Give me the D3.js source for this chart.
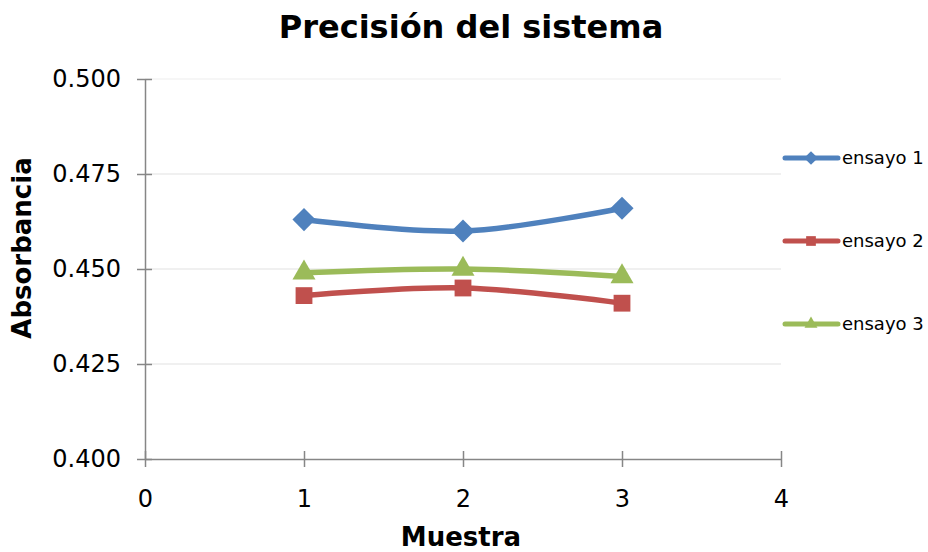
<!DOCTYPE html>
<html>
<head>
<meta charset="utf-8">
<script src="https://cdn.jsdelivr.net/npm/d3@7"></script>
<style>
  html, body { margin: 0; padding: 0; background: #fff; }
  svg { display: block; font-family: "DejaVu Sans", Verdana, sans-serif; }
</style>
</head>
<body>
<svg id="chart" width="928" height="552"></svg>
<script>
// Data: absorbance readings for three runs over samples 1..3
const muestras = [1, 2, 3];
const ensayo1 = [0.463, 0.460, 0.466];
const ensayo2 = [0.443, 0.445, 0.441];
const ensayo3 = [0.449, 0.450, 0.448];
const seriesNames = ["ensayo 1", "ensayo 2", "ensayo 3"];
const xTicks = [0, 1, 2, 3, 4];
const yTicks = [0.400, 0.425, 0.450, 0.475, 0.500];

const series = [
  { name: seriesNames[0], values: ensayo1, color: "#4F81BD", symbol: d3.symbolDiamond2, size: 340 },
  { name: seriesNames[1], values: ensayo2, color: "#C0504D", symbol: d3.symbolSquare2, size: 360 },
  { name: seriesNames[2], values: ensayo3, color: "#9BBB59", symbol: d3.symbolTriangle2, size: 380 }
];

const svg = d3.select("#chart");
const x = d3.scaleLinear().domain([0, 4]).range([145, 781]);
const y = d3.scaleLinear().domain([0.400, 0.500]).range([459, 79]);
const axisColor = "#868686";
const font = "DejaVu Sans, Verdana, sans-serif";

// Horizontal gridlines
svg.append("g")
  .selectAll("line")
  .data(yTicks.filter(t => t > 0.400))
  .join("line")
  .attr("x1", x(0)).attr("x2", x(4))
  .attr("y1", d => y(d)).attr("y2", d => y(d))
  .attr("stroke", d => d === 0.500 ? "#f3f3f3" : "#ebebeb").attr("stroke-width", 1.5);

// Y axis with ticks crossing the axis line
const yAxis = svg.append("g")
  .attr("transform", `translate(${x(0)},0)`)
  .call(d3.axisLeft(y).tickValues(yTicks).tickFormat(d3.format(".3f")).tickSizeInner(8).tickSizeOuter(0).tickPadding(16));
yAxis.select(".domain").attr("stroke", axisColor).attr("stroke-width", 1.5);
yAxis.selectAll(".tick line").attr("stroke", axisColor).attr("stroke-width", 1.5).attr("x2", 7).attr("x1", -8);
yAxis.selectAll(".tick text").attr("font-size", 24).attr("fill", "#000").attr("font-family", font);

// X axis with ticks crossing the axis line
const xAxis = svg.append("g")
  .attr("transform", `translate(0,${y(0.400)})`)
  .call(d3.axisBottom(x).tickValues(xTicks).tickFormat(d3.format("d")).tickSizeInner(8).tickSizeOuter(0).tickPadding(23));
xAxis.select(".domain").attr("stroke", axisColor).attr("stroke-width", 1.5);
xAxis.selectAll(".tick line").attr("stroke", axisColor).attr("stroke-width", 1.5).attr("y1", -8).attr("y2", 8);
xAxis.selectAll(".tick text").attr("font-size", 24).attr("fill", "#000").attr("font-family", font);

// Smoothed lines
const line = d3.line()
  .x((d, i) => x(muestras[i]))
  .y(d => y(d))
  .curve(d3.curveCatmullRom.alpha(0));

series.forEach(s => {
  svg.append("path")
    .datum(s.values)
    .attr("d", line)
    .attr("fill", "none")
    .attr("stroke", s.color)
    .attr("stroke-width", 5.5)
    .attr("stroke-linecap", "round");
});

// Markers
series.forEach(s => {
  svg.append("g")
    .selectAll("path")
    .data(s.values)
    .join("path")
    .attr("transform", (d, i) => `translate(${x(muestras[i])},${y(d)})`)
    .attr("d", d3.symbol().type(s.symbol).size(s.size))
    .attr("fill", s.color);
});

// Legend
const legendY = [158, 241, 324];
series.forEach((s, i) => {
  const g = svg.append("g").attr("transform", `translate(783,${legendY[i]})`);
  g.append("line").attr("x1", 2).attr("x2", 55).attr("y1", 0).attr("y2", 0)
    .attr("stroke", s.color).attr("stroke-width", 5).attr("stroke-linecap", "round");
  g.append("path").attr("transform", "translate(28,0)")
    .attr("d", d3.symbol().type(s.symbol).size(120)).attr("fill", s.color);
  g.append("text").attr("x", 59).attr("y", 6).attr("font-size", 18).attr("fill", "#000")
    .attr("font-family", font).text(s.name);
});

// Title and axis titles
svg.append("text").attr("x", 471).attr("y", 38).attr("text-anchor", "middle")
  .attr("font-size", 32).attr("font-weight", "bold").text("Precisión del sistema");
svg.append("text").attr("x", 461).attr("y", 546).attr("text-anchor", "middle")
  .attr("font-size", 26).attr("font-weight", "bold").text("Muestra");
svg.append("text").attr("transform", "translate(31,248) rotate(-90)").attr("text-anchor", "middle")
  .attr("font-size", 26).attr("font-weight", "bold").text("Absorbancia");
</script>
</body>
</html>
